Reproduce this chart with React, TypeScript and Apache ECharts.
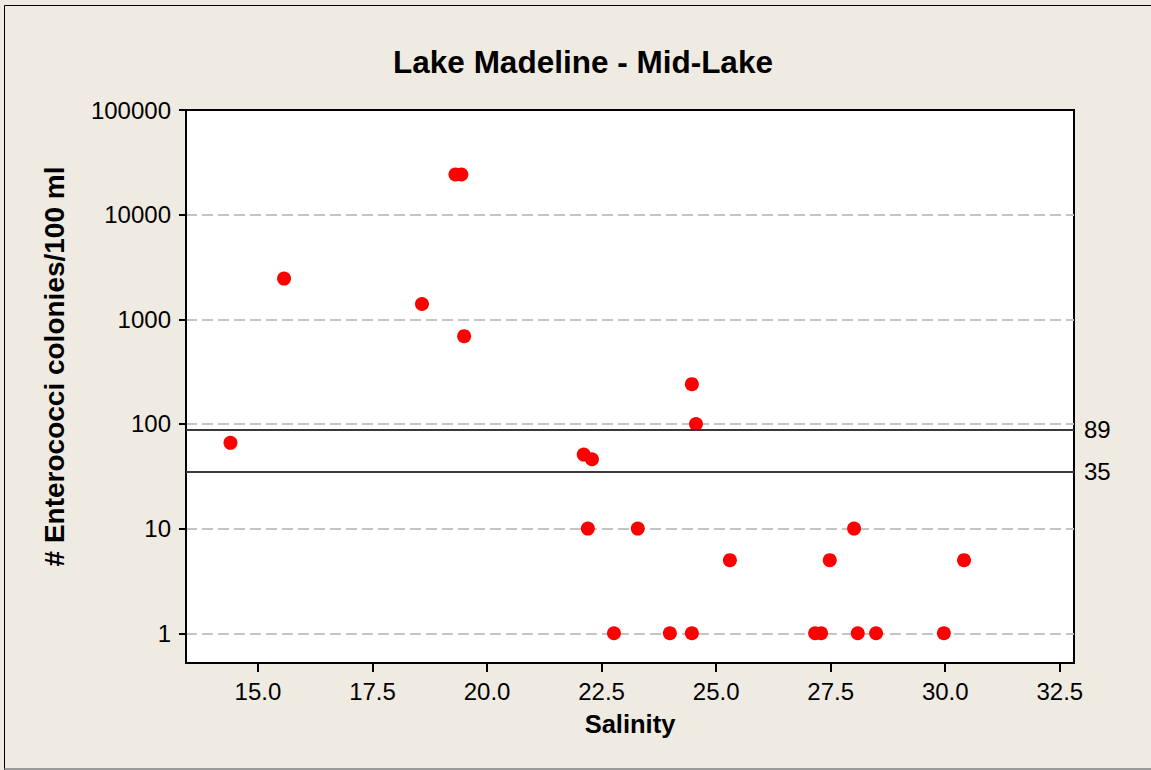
import React, { useEffect, useRef } from "react";
import * as echarts from "echarts";

const salinity = [
  14.4, 15.57, 19.31, 19.44, 18.58, 19.5, 22.11, 22.29, 24.47, 24.56,
  22.2, 23.29, 28.01, 25.3, 27.48, 30.41,
  22.77, 23.99, 24.47, 27.16, 27.29, 28.09, 28.49, 29.97,
];
const enterococci = [
  66, 2450, 24200, 24200, 1400, 690, 51, 46, 240, 100,
  10, 10, 10, 5, 5, 5,
  1, 1, 1, 1, 1, 1, 1, 1,
];
const xTicks = [15, 17.5, 20, 22.5, 25, 27.5, 30, 32.5];
const yTicks = [1, 10, 100, 1000, 10000, 100000];
const refLines = [89, 35];

export default function App() {
  const ref = useRef<HTMLDivElement>(null);
  useEffect(() => {
    if (!ref.current) return;
    const chart = echarts.init(ref.current, undefined, { renderer: "svg" });
    const data = salinity.map((s, i) => [s, enterococci[i]]);
    chart.setOption({
      animation: false,
      backgroundColor: "#EFEBE2",
      textStyle: { fontFamily: "Liberation Sans" },
      title: {
        text: "Lake Madeline - Mid-Lake",
        left: 578,
        textAlign: "center",
        top: 41,
        textStyle: { fontFamily: "Liberation Sans", fontSize: 31.5, fontWeight: "bold", color: "#000" },
      },
      graphic: [
        { type: "line", shape: { x1: 4.5, y1: 5.5, x2: 1151, y2: 5.5 }, style: { stroke: "#000", lineWidth: 1 } },
        { type: "line", shape: { x1: 4.5, y1: 5.5, x2: 4.5, y2: 770 }, style: { stroke: "#000", lineWidth: 1 } },
        { type: "line", shape: { x1: 4.5, y1: 769, x2: 1151, y2: 769 }, style: { stroke: "#9a9a9a", lineWidth: 2 } },
        { type: "line", z: 100, shape: { x1: 186, y1: 110, x2: 1074, y2: 110 }, style: { stroke: "#000", lineWidth: 2 } },
      ],
      grid: {
        left: 186,
        right: 77,
        top: 110,
        bottom: 107,
        show: true,
        backgroundColor: "#fff",
        borderColor: "#000",
        borderWidth: 2,
      },
      xAxis: {
        type: "value",
        min: 13.43,
        max: 32.81,
        name: "Salinity",
        nameLocation: "middle",
        nameGap: 48,
        nameTextStyle: { fontFamily: "Liberation Sans", fontSize: 25.5, fontWeight: "bold", color: "#000" },
        axisLine: { lineStyle: { color: "#000", width: 2 } },
        axisTick: { customValues: xTicks, length: 9, lineStyle: { color: "#000", width: 2 } },
        axisLabel: {
          customValues: xTicks,
          formatter: (v: number) => v.toFixed(1),
          fontSize: 24,
          color: "#000",
          margin: 16,
        },
        splitLine: { show: false },
      },
      yAxis: {
        type: "log",
        logBase: 10,
        min: 0.52,
        max: 100000,
        name: "# Enterococci colonies/100 ml",
        nameLocation: "middle",
        nameGap: 118,
        nameTextStyle: {
          fontFamily: "Liberation Sans",
          fontSize: 28,
          fontWeight: "bold",
          color: "#000",
          padding: [0, 0, 0, 40],
        },
        axisLine: { lineStyle: { color: "#000", width: 2 } },
        axisTick: { customValues: yTicks, length: 7, lineStyle: { color: "#000", width: 2 } },
        axisLabel: {
          customValues: yTicks,
          formatter: (v: number) => String(Math.round(v)),
          fontSize: 24,
          color: "#000",
          margin: 15,
        },
        splitLine: {
          show: true,
          showMaxLine: false,
          lineStyle: { color: "#c4c4c4", width: 2, type: [11, 5] },
        },
      },
      series: [
        {
          type: "scatter",
          data,
          symbol: "circle",
          symbolSize: 14,
          itemStyle: { color: "#FF0000", opacity: 1 },
          markLine: {
            silent: true,
            symbol: "none",
            lineStyle: { color: "#3a3a3a", width: 2, type: "solid" },
            label: {
              position: "end",
              formatter: (p: any) => String(p.value),
              fontFamily: "Liberation Sans",
              fontSize: 24,
              color: "#000",
              distance: 10,
            },
            data: refLines.map((v) => ({ yAxis: v })),
          },
        },
      ],
    });
    return () => chart.dispose();
  }, []);
  return <div ref={ref} style={{ position: "fixed", left: 0, top: 0, width: 1151, height: 770 }} />;
}
